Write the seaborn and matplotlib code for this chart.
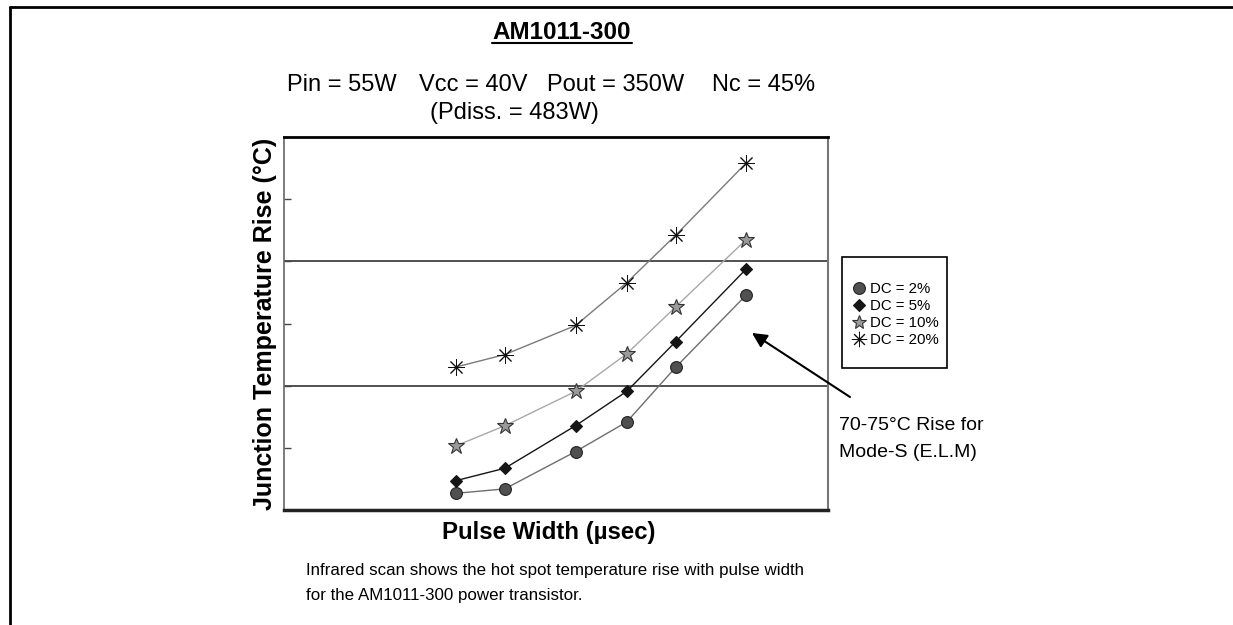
import matplotlib.pyplot as plt
import seaborn as sns
from matplotlib.lines import Line2D
from matplotlib.patches import Rectangle

# data (x in arbitrary µsec units, y in °C rise)
pulse_width = [31.6, 40.6, 53.6, 63.0, 72.0, 84.9]
dc_labels = ["DC = 2%", "DC = 5%", "DC = 10%", "DC = 20%"]
rise_dc2 = [65.67, 65.85, 67.35, 68.54, 70.74, 73.63]
rise_dc5 = [66.18, 66.68, 68.39, 69.77, 71.77, 74.68]
rise_dc10 = [67.58, 68.39, 69.77, 71.28, 73.17, 75.86]
rise_dc20 = [70.75, 71.25, 72.42, 74.14, 76.05, 78.94]
y_ticks = [67.5, 70, 72.5, 75, 77.5]
band_levels = [70, 75]

sns.set_style("white")
plt.rcParams['font.family'] = ['Liberation Sans', 'DejaVu Sans']
plt.rcParams['text.color'] = 'black'

W, H = 1233, 625
def fx(px):
    return px / W
def fy(py):
    return 1 - py / H

fig = plt.figure(figsize=(W / 100, H / 100), dpi=100)
ax = fig.add_axes([fx(284), fy(510), fx(828) - fx(284), fy(137) - fy(510)])

# marker / line styles per series
styles = [
    dict(marker="o", markersize=8.5, markerfacecolor="#505050", markeredgecolor="#222222", markeredgewidth=0.8, color="#6e6e6e"),
    dict(marker="D", markersize=6.5, markerfacecolor="#151515", markeredgecolor="#151515", markeredgewidth=0.8, color="#151515"),
    dict(marker="*", markersize=12, markerfacecolor="#9a9a9a", markeredgecolor="#333333", markeredgewidth=0.8, color="#a8a8a8"),
    dict(marker=(8, 2, 0), markersize=12, markerfacecolor="none", markeredgecolor="#111111", markeredgewidth=0.7, color="#7a7a7a"),
]
series = [rise_dc2, rise_dc5, rise_dc10, rise_dc20]

for vals, st in zip(series, styles):
    sns.lineplot(x=pulse_width, y=vals, ax=ax, lw=1.0, legend=False, **st)

for lvl in band_levels:
    ax.axhline(lvl, color="#333333", lw=1.2, zorder=0)

ax.set_xlim(0, 100)
ax.set_ylim(65, 80)
ax.set_yticks(y_ticks)
ax.set_yticklabels([])
ax.set_xticks([])
ax.tick_params(axis="y", direction="in", length=5, width=1, color="#444444", left=True)
ax.spines["top"].set_color("black")
ax.spines["top"].set_linewidth(2)
ax.spines["left"].set_color("#666666")
ax.spines["left"].set_linewidth(1.2)
ax.spines["right"].set_color("#777777")
ax.spines["right"].set_linewidth(1.5)
ax.spines["bottom"].set_color("#222222")
ax.spines["bottom"].set_linewidth(2.5)

# page frame (top and left rules)
fig.add_artist(Line2D([fx(10), 1], [fy(6.5), fy(6.5)], color="black", lw=2))
fig.add_artist(Line2D([fx(10), fx(10)], [0, fy(6.5)], color="black", lw=2))

# title + underline
fig.text(fx(562), fy(39), "AM1011-300", ha="center", va="baseline", fontsize=17.5, fontweight="bold")
fig.add_artist(Line2D([fx(492), fx(632)], [fy(42.5), fy(42.5)], color="black", lw=1.5))

# operating conditions
fig.text(fx(287), fy(91), "Pin = 55W", fontsize=17, va="baseline")
fig.text(fx(419), fy(91), "Vcc = 40V", fontsize=17, va="baseline")
fig.text(fx(547), fy(91), "Pout = 350W", fontsize=17, va="baseline")
fig.text(fx(712), fy(91), "Nc = 45%", fontsize=17, va="baseline")
fig.text(fx(430), fy(119), "(Pdiss. = 483W)", fontsize=17, va="baseline")

# axis labels
fig.text(fx(265), fy(323.5), "Junction Temperature Rise (°C)", rotation=90,
         ha="center", va="center", fontsize=18, fontweight="bold")
fig.text(fx(548.5), fy(533), "Pulse Width (µsec)", ha="center", va="center",
         fontsize=17.3, fontweight="bold")

# caption
fig.text(fx(306), fy(575), "Infrared scan shows the hot spot temperature rise with pulse width",
         fontsize=12.2, va="baseline")
fig.text(fx(306), fy(600), "for the AM1011-300 power transistor.", fontsize=12.2, va="baseline")

# annotation with arrow
fig.text(fx(839), fy(430), "70-75°C Rise for", fontsize=14, va="baseline")
fig.text(fx(839), fy(456.7), "Mode-S (E.L.M)", fontsize=14, va="baseline")
ax.annotate("", xy=(752, H - 333), xycoords="figure pixels",
            xytext=(850, H - 397), textcoords="figure pixels",
            arrowprops=dict(arrowstyle="-|>", color="black", lw=1.5,
                            mutation_scale=22, shrinkA=0, shrinkB=0))

# legend box
fig.add_artist(Rectangle((fx(842), fy(368)), fx(947) - fx(842), fy(257) - fy(368),
                         transform=fig.transFigure, fill=False, edgecolor="black", lw=1.2))
leg_sizes = [8.5, 6, 10, 11]
handles = []
for st, ms in zip(styles, leg_sizes):
    h = dict(st)
    h["markersize"] = ms
    h.pop("color")
    handles.append(Line2D([], [], linestyle="none", **h))
fig.legend(handles, dc_labels, loc="upper left", bbox_to_anchor=(fx(851), fy(282)),
           frameon=False, fontsize=10.8, handlelength=1.0, handletextpad=0.3,
           labelspacing=0.2, borderpad=0, borderaxespad=0)

fig.savefig("out.png", dpi=100)
